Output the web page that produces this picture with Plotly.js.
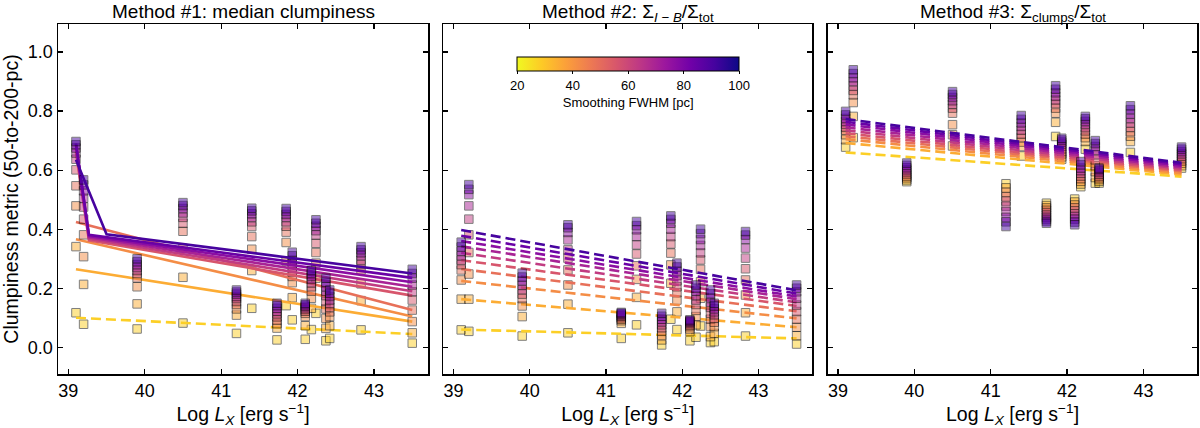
<!DOCTYPE html>
<html>
<head>
<meta charset="utf-8">
<script src="https://cdn.plot.ly/plotly-3.0.1.min.js"></script>
<style>html,body{margin:0;padding:0;background:#fff;}#chart{width:1200px;height:428px;}</style>
</head>
<body>
<div id="chart"></div>
<script>
// ---------------- DATA ----------------
const galaxyLogLx = [39.1, 39.2, 39.9, 40.5, 41.2, 41.4, 41.73, 41.85, 41.93, 42.1, 42.18, 42.24, 42.37, 42.42, 42.83, 43.5];
const fwhmPc = [28, 35, 42, 49, 56, 63, 70, 77, 84, 91];
const colorbarTicks = [20, 40, 60, 80, 100];

// rows = galaxies, columns = smoothing FWHM (same order as fwhmPc)
const method1Values = [
  [0.117, 0.341, 0.479, 0.547, 0.601, 0.637, 0.658, 0.675, 0.686, 0.697],
  [0.078, 0.213, 0.307, 0.381, 0.434, 0.475, 0.505, 0.53, 0.55, 0.567],
  [0.062, 0.147, 0.205, 0.235, 0.25, 0.26, 0.27, 0.28, 0.29, 0.30],
  [0.082, 0.237, 0.335, 0.393, 0.42, 0.44, 0.455, 0.47, 0.48, 0.49],
  [0.047, 0.109, 0.13, 0.145, 0.155, 0.165, 0.172, 0.18, 0.187, 0.194],
  [0.132, 0.26, 0.332, 0.375, 0.409, 0.425, 0.44, 0.452, 0.462, 0.471],
  [0.025, 0.065, 0.08, 0.092, 0.103, 0.113, 0.122, 0.132, 0.141, 0.149],
  [0.141, 0.292, 0.355, 0.39, 0.41, 0.425, 0.44, 0.45, 0.46, 0.47],
  [0.093, 0.168, 0.219, 0.24, 0.255, 0.27, 0.283, 0.295, 0.31, 0.322],
  [0.027, 0.073, 0.104, 0.115, 0.122, 0.128, 0.134, 0.139, 0.144, 0.149],
  [0.06, 0.132, 0.166, 0.19, 0.205, 0.218, 0.23, 0.24, 0.25, 0.26],
  [0.115, 0.234, 0.285, 0.321, 0.352, 0.38, 0.395, 0.41, 0.42, 0.432],
  [0.022, 0.064, 0.098, 0.13, 0.155, 0.175, 0.19, 0.205, 0.22, 0.234],
  [0.03, 0.073, 0.104, 0.12, 0.135, 0.148, 0.16, 0.172, 0.183, 0.194],
  [0.059, 0.158, 0.215, 0.262, 0.28, 0.295, 0.31, 0.32, 0.33, 0.341],
  [0.014, 0.049, 0.087, 0.126, 0.16, 0.188, 0.211, 0.234, 0.25, 0.264]
];
const method2Values = [
  [0.059, 0.163, 0.228, 0.262, 0.28, 0.295, 0.31, 0.325, 0.34, 0.356],
  [0.054, 0.163, 0.248, 0.321, 0.381, 0.434, 0.479, 0.517, 0.535, 0.551],
  [0.038, 0.104, 0.14, 0.165, 0.18, 0.195, 0.21, 0.225, 0.238, 0.251],
  [0.049, 0.146, 0.211, 0.262, 0.302, 0.33, 0.364, 0.389, 0.405, 0.415],
  [0.03, 0.081, 0.09, 0.095, 0.1, 0.105, 0.108, 0.112, 0.115, 0.118],
  [0.076, 0.169, 0.23, 0.276, 0.316, 0.347, 0.375, 0.398, 0.412, 0.426],
  [0.008, 0.025, 0.04, 0.055, 0.066, 0.076, 0.086, 0.095, 0.105, 0.115],
  [0.095, 0.217, 0.279, 0.319, 0.35, 0.375, 0.4, 0.42, 0.433, 0.445],
  [0.06, 0.12, 0.16, 0.185, 0.205, 0.225, 0.243, 0.258, 0.272, 0.285],
  [0.022, 0.053, 0.062, 0.07, 0.075, 0.08, 0.084, 0.087, 0.09, 0.093],
  [0.034, 0.076, 0.104, 0.125, 0.145, 0.16, 0.175, 0.19, 0.2, 0.211],
  [0.072, 0.166, 0.222, 0.264, 0.296, 0.32, 0.345, 0.365, 0.385, 0.40],
  [0.016, 0.036, 0.07, 0.095, 0.115, 0.135, 0.152, 0.167, 0.181, 0.194],
  [0.019, 0.047, 0.07, 0.085, 0.098, 0.11, 0.12, 0.13, 0.14, 0.149],
  [0.038, 0.117, 0.177, 0.228, 0.266, 0.302, 0.336, 0.365, 0.38, 0.392],
  [0.011, 0.039, 0.068, 0.095, 0.121, 0.143, 0.166, 0.188, 0.2, 0.211]
];
const method3Values = [
  [0.678, 0.703, 0.72, 0.735, 0.745, 0.755, 0.765, 0.775, 0.787, 0.799],
  [0.71, 0.782, 0.829, 0.855, 0.87, 0.885, 0.9, 0.913, 0.927, 0.94],
  [0.561, 0.567, 0.574, 0.58, 0.587, 0.594, 0.601, 0.608, 0.616, 0.624],
  [0.682, 0.72, 0.754, 0.793, 0.81, 0.823, 0.835, 0.846, 0.856, 0.866],
  [0.554, 0.54, 0.525, 0.51, 0.495, 0.478, 0.46, 0.44, 0.425, 0.409],
  [0.648, 0.68, 0.695, 0.71, 0.722, 0.735, 0.748, 0.76, 0.772, 0.785],
  [0.488, 0.48, 0.472, 0.464, 0.456, 0.448, 0.44, 0.433, 0.426, 0.42],
  [0.714, 0.762, 0.793, 0.81, 0.825, 0.838, 0.85, 0.862, 0.874, 0.886],
  [0.637, 0.645, 0.655, 0.663, 0.672, 0.68, 0.688, 0.695, 0.702, 0.708],
  [0.502, 0.492, 0.482, 0.472, 0.462, 0.452, 0.443, 0.434, 0.424, 0.415],
  [0.544, 0.553, 0.562, 0.571, 0.58, 0.589, 0.598, 0.607, 0.618, 0.629],
  [0.671, 0.697, 0.71, 0.722, 0.733, 0.744, 0.755, 0.765, 0.774, 0.782],
  [0.556, 0.575, 0.595, 0.615, 0.635, 0.652, 0.667, 0.68, 0.69, 0.70],
  [0.556, 0.562, 0.568, 0.574, 0.58, 0.586, 0.592, 0.598, 0.603, 0.607],
  [0.66, 0.697, 0.715, 0.73, 0.745, 0.76, 0.775, 0.79, 0.805, 0.818],
  [0.607, 0.615, 0.623, 0.631, 0.639, 0.647, 0.655, 0.663, 0.671, 0.678]
];

// fitted trend lines (one per FWHM)
const fitM1X = [
  [39.1, 43.5], [39.1, 43.5], [39.1, 43.5], [39.1, 43.5],
  [39.1, 39.27, 43.5], [39.1, 39.27, 43.5], [39.1, 39.27, 43.5],
  [39.1, 39.27, 43.5], [39.1, 39.27, 43.5], [39.1, 39.5, 43.5]
];
const fitM1Y = [
  [0.10, 0.045], [0.264, 0.087], [0.366, 0.104], [0.424, 0.126],
  [0.66, 0.362, 0.175], [0.675, 0.367, 0.19], [0.685, 0.372, 0.205],
  [0.69, 0.377, 0.22], [0.69, 0.381, 0.235], [0.635, 0.383, 0.25]
];
const fitM1Dashed = [true, false, false, false, false, false, false, false, false, false];
const fitX = [39.1, 43.5];
const fitM2Y = [
  [0.06, 0.03], [0.163, 0.068], [0.225, 0.098], [0.265, 0.122], [0.295, 0.14],
  [0.32, 0.152], [0.342, 0.163], [0.36, 0.172], [0.378, 0.182], [0.397, 0.193]
];
const fitM3Y = [
  [0.66, 0.578], [0.692, 0.585], [0.705, 0.59], [0.715, 0.596], [0.725, 0.60],
  [0.735, 0.605], [0.745, 0.61], [0.755, 0.615], [0.764, 0.62], [0.773, 0.625]
];

const panelTitles = [
  'Method #1: median clumpiness',
  'Method #2: Σ<sub><i>I</i> − <i>B</i></sub>/Σ<sub>tot</sub>',
  'Method #3: Σ<sub>clumps</sub>/Σ<sub>tot</sub>'
];

// ---------------- STYLE ----------------
const plasma = ['#0d0887','#46039f','#7201a8','#9c179e','#bd3786','#d8576b','#ed7953','#fb9f3a','#fdca26','#f0f921'];
const cmin = 20, cmax = 100;
const plasmaR = plasma.slice().reverse();
const colorscale = plasmaR.map((c, i) => [i / (plasmaR.length - 1), c]);
function hexToRgb(h) { return [parseInt(h.slice(1,3),16), parseInt(h.slice(3,5),16), parseInt(h.slice(5,7),16)]; }
function colorFor(v) {
  let t = (v - cmin) / (cmax - cmin);
  t = Math.max(0, Math.min(1, t));
  const p = t * (plasmaR.length - 1);
  const i = Math.min(Math.floor(p), plasmaR.length - 2);
  const f = p - i;
  const a = hexToRgb(plasmaR[i]), b = hexToRgb(plasmaR[i + 1]);
  const c = a.map((x, k) => Math.round(x + (b[k] - x) * f));
  return 'rgb(' + c.join(',') + ')';
}

const FONT = 'Liberation Sans, Arial, sans-serif';
const TICK = 18, TITLE = 19, AXT = 19.5;
const traces = [];
const panels = [
  {vals: method1Values, xa: 'x', ya: 'y'},
  {vals: method2Values, xa: 'x2', ya: 'y2'},
  {vals: method3Values, xa: 'x3', ya: 'y3'}
];
panels.forEach((p, pi) => {
  fwhmPc.forEach((fw, i) => {
    const col = colorFor(fw);
    traces.push({
      type: 'scatter', mode: 'markers', xaxis: p.xa, yaxis: p.ya,
      x: galaxyLogLx, y: p.vals.map(r => r[i]),
      marker: {symbol: 'square', size: 8.5, color: col, opacity: 0.5, line: {color: 'black', width: 1}},
      hoverinfo: 'skip', showlegend: false
    });
    let lx, ly, dash;
    if (pi === 0) { lx = fitM1X[i]; ly = fitM1Y[i]; dash = fitM1Dashed[i] ? '10px,5px' : 'solid'; }
    else if (pi === 1) { lx = fitX; ly = fitM2Y[i]; dash = '10px,5px'; }
    else { lx = fitX; ly = fitM3Y[i]; dash = '10px,5px'; }
    traces.push({
      type: 'scatter', mode: 'lines', xaxis: p.xa, yaxis: p.ya,
      x: lx, y: ly, line: {color: col, width: 2.6, dash: dash},
      hoverinfo: 'skip', showlegend: false
    });
  });
});

// colorbar carrier
traces.push({
  type: 'scatter', mode: 'markers', xaxis: 'x2', yaxis: 'y2',
  x: [null], y: [null], hoverinfo: 'skip', showlegend: false,
  marker: {
    color: [cmin], cmin: cmin, cmax: cmax, colorscale: colorscale, showscale: true,
    colorbar: {
      orientation: 'h', x: 628.2/1200, xanchor: 'center', y: 1 - 56.7/428, yanchor: 'top',
      len: 221.7/1200, lenmode: 'fraction', thickness: 14, thicknessmode: 'pixels',
      outlinewidth: 1, outlinecolor: 'black', xpad: 0, ypad: 0,
      tickvals: colorbarTicks, ticks: 'outside', ticklen: 3, tickcolor: 'black',
      tickfont: {family: FONT, size: 13, color: 'black'},
      title: {text: 'Smoothing FWHM [pc]', side: 'bottom', font: {family: FONT, size: 13, color: 'black'}}
    }
  }
});

const yDom = [1 - 374/428, 1 - 24/428];
const xDoms = [[58/1200, 428/1200], [443.3/1200, 812.3/1200], [827.7/1200, 1197.3/1200]];
const xRange = [38.865, 43.706];
const yRange = [-0.0905, 1.095];
function xAxis(dom, anchor) {
  return {
    domain: dom, anchor: anchor, range: xRange, tickvals: [39, 40, 41, 42, 43],
    ticks: 'inside', ticklen: 5, tickwidth: 1.2, tickcolor: 'black', mirror: 'ticks',
    showline: true, linecolor: 'black', linewidth: 1.5, showgrid: false, zeroline: false,
    tickfont: {family: FONT, size: TICK, color: 'black'},
    title: {text: 'Log <i>L</i><sub><i>X</i></sub> [erg s<sup>−1</sup>]', font: {family: FONT, size: AXT, color: 'black'}, standoff: 4}
  };
}
function yAxis(anchor, labels) {
  return {
    domain: yDom, anchor: anchor, range: yRange, tickvals: [0, 0.2, 0.4, 0.6, 0.8, 1.0],
    tickformat: '.1f', showticklabels: labels,
    ticks: 'inside', ticklen: 5, tickwidth: 1.2, tickcolor: 'black', mirror: 'ticks',
    showline: true, linecolor: 'black', linewidth: 1.5, showgrid: false, zeroline: false,
    tickfont: {family: FONT, size: TICK, color: 'black'}
  };
}
const layout = {
  width: 1200, height: 428, margin: {l: 0, r: 0, t: 0, b: 0},
  paper_bgcolor: 'white', plot_bgcolor: 'white', showlegend: false,
  font: {family: FONT, color: 'black'},
  xaxis: xAxis(xDoms[0], 'y'), xaxis2: xAxis(xDoms[1], 'y2'), xaxis3: xAxis(xDoms[2], 'y3'),
  yaxis: Object.assign(yAxis('x', true), {
    title: {text: 'Clumpiness metric (50-to-200-pc)', font: {family: FONT, size: AXT, color: 'black'}, standoff: 6}
  }),
  yaxis2: yAxis('x2', false), yaxis3: yAxis('x3', false),
  annotations: panelTitles.map((t, i) => ({
    text: t, xref: 'paper', yref: 'paper',
    x: (xDoms[i][0] + xDoms[i][1]) / 2, y: 1,
    xanchor: 'center', yanchor: 'top', showarrow: false, borderpad: 0,
    font: {family: FONT, size: TITLE, color: 'black'}
  }))
};
Plotly.newPlot('chart', traces, layout, {staticPlot: true, displayModeBar: false});
</script>
</body>
</html>
